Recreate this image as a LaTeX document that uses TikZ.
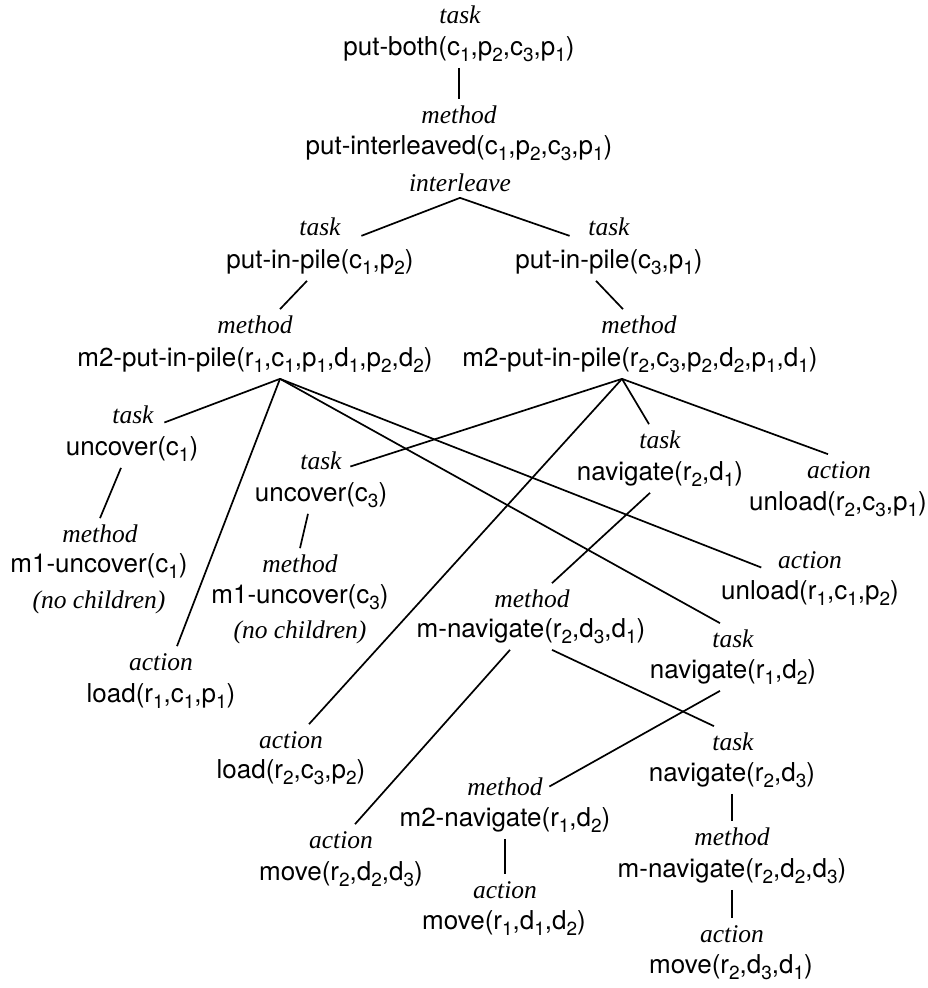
\documentclass[tikz,border=0pt]{standalone}
\usepackage{fontspec}
\setmainfont{TeX Gyre Heros}
\newfontfamily\kindfont{Liberation Serif}
\usetikzlibrary{calc}
\newcommand{\sub}[1]{\raisebox{-0.25em}{\fontsize{19}{19}\selectfont #1}}

\begin{document}
\begin{tikzpicture}[x=1pt,y=1pt,yscale=-1,xscale=1,line width=1.7pt,
  term/.style={font=\fontsize{26}{30}\selectfont, anchor=base, inner sep=6pt, text height=19pt, text depth=6pt},
  kind/.style={font=\kindfont\itshape\fontsize{25.5}{30}\selectfont, anchor=base, inner sep=6pt, text height=17pt, text depth=0pt}]
\useasboundingbox (0,0) rectangle (928,988);

% Text Node
\node[kind] (tk0) at (460,23) {task};
\node[term] (pb) at (459,55) {put-both(c\sub1,p\sub2,c\sub3,p\sub1)};
% Text Node
\node[kind] (mk0) at (459,123) {method};
\node[term] (pil) at (459,154) {put-interleaved(c\sub1,p\sub2,c\sub3,p\sub1)};
\node[kind] (il) at (460,191) {interleave};
% Text Node
\node[kind] (tkl) at (320,235) {task};
\node[term] (ppl) at (320,268) {put-in-pile(c\sub1,p\sub2)};
\node[kind] (tkr) at (609,235) {task};
\node[term] (ppr) at (609,268) {put-in-pile(c\sub3,p\sub1)};
% Text Node
\node[kind] (mkl) at (255,333) {method};
\node[term] (m2l) at (255,366) {m2-put-in-pile(r\sub1,c\sub1,p\sub1,d\sub1,p\sub2,d\sub2)};
\node[kind] (mkr) at (639,333) {method};
\node[term] (m2r) at (640,366) {m2-put-in-pile(r\sub2,c\sub3,p\sub2,d\sub2,p\sub1,d\sub1)};
% Text Node
\node[kind] (tuc1) at (133,423) {task};
\node[term] (uc1) at (132,455) {uncover(c\sub1)};
\node[kind] (mm1) at (100,542) {method};
\node[term] (m1u1) at (99,572) {m1-uncover(c\sub1)};
\node[kind] (nc1) at (99,608) {(no children)};
\node[kind] (alr1) at (161,670) {action};
\node[term] (lr1) at (161,702) {load(r\sub1,c\sub1,p\sub1)};
% Text Node
\node[kind] (tuc3) at (321,469) {task};
\node[term] (uc3) at (321,501) {uncover(c\sub3)};
\node[kind] (mm3) at (300,572) {method};
\node[term] (m1u3) at (300,603) {m1-uncover(c\sub3)};
\node[kind] (nc3) at (300,638) {(no children)};
\node[kind] (alr2) at (291,748) {action};
\node[term] (lr2) at (291,778) {load(r\sub2,c\sub3,p\sub2)};
% Text Node
\node[kind] (tnv1) at (660,448) {task};
\node[term] (nv1) at (660,480) {navigate(r\sub2,d\sub1)};
\node[kind] (aul1) at (839,478) {action};
\node[term] (ul1) at (838,510) {unload(r\sub2,c\sub3,p\sub1)};
\node[kind] (aul2) at (810,568) {action};
\node[term] (ul2) at (810,599) {unload(r\sub1,c\sub1,p\sub2)};
% Text Node
\node[kind] (mmn1) at (532,607) {method};
\node[term] (mn1) at (531,637) {m-navigate(r\sub2,d\sub3,d\sub1)};
\node[kind] (tnv2) at (733,647) {task};
\node[term] (nv2) at (733,678) {navigate(r\sub1,d\sub2)};
\node[kind] (tnv3) at (733,750) {task};
\node[term] (nv3) at (732,781) {navigate(r\sub2,d\sub3)};
% Text Node
\node[kind] (mm2n) at (505,795) {method};
\node[term] (m2n) at (505,826) {m2-navigate(r\sub1,d\sub2)};
\node[kind] (amv2) at (505,898) {action};
\node[term] (mv2) at (504,929) {move(r\sub1,d\sub1,d\sub2)};
\node[kind] (amv1) at (341,848) {action};
\node[term] (mv1) at (341,880) {move(r\sub2,d\sub2,d\sub3)};
% Text Node
\node[kind] (mmn2) at (732,845) {method};
\node[term] (mn2) at (732,877) {m-navigate(r\sub2,d\sub2,d\sub3)};
\node[kind] (amv3) at (732,942) {action};
\node[term] (mv3) at (731,973) {move(r\sub2,d\sub3,d\sub1)};

% fan points under the two m2-put-in-pile methods
\coordinate (fa) at ($(m2l.south)+(25,0)$);
\coordinate (fb) at ($(m2r.south)+(-18,0)$);

%Straight Lines
\draw (pb.south) -- (mk0.north);
\draw (il.south) -- ($(tkl.south east)+(14,-6)$);
\draw (il.south) -- ($(tkr.south west)+(-12,-6)$);
\draw ($(ppl.south)+(-13,0)$) -- ($(mkl.north)+(25,0)$);
\draw ($(ppr.south)+(-13,0)$) -- ($(mkr.north)+(-16,0)$);
%Straight Lines
\draw (fa) -- ($(tuc1.east)+(4,8)$);
\draw (fa) -- ($(alr1.north)+(16,0)$);
\draw (fa) -- ($(aul2.west)+(-10,8)$);
\draw (fa) -- ($(tnv2.north)+(-13,0)$);
%Straight Lines
\draw (fb) -- ($(tuc3.east)+(2,6)$);
\draw (fb) -- ($(alr2.north)+(18,0)$);
\draw (fb) -- ($(tnv1.north)+(-11,0)$);
\draw (fb) -- ($(aul1.north)+(-11,0)$);
%Straight Lines
\draw ($(uc1.south)+(-11,0)$) -- (mm1.north);
\draw ($(uc3.south)+(-13,0)$) -- (mm3.north);
\draw ($(nv1.south)+(-10,0)$) -- ($(mmn1.north)+(20,0)$);
\draw ($(mn1.south)+(-21,0)$) -- ($(amv1.north)+(14,0)$);
\draw ($(mn1.south)+(21,0)$) -- ($(tnv3.north)+(-19,0)$);
\draw ($(nv2.south)+(-13,0)$) -- (mm2n.east);
\draw (nv3.south) -- (mmn2.north);
\draw (mn2.south) -- (amv3.north);
\draw (m2n.south) -- (amv2.north);

\end{tikzpicture}
\end{document}
